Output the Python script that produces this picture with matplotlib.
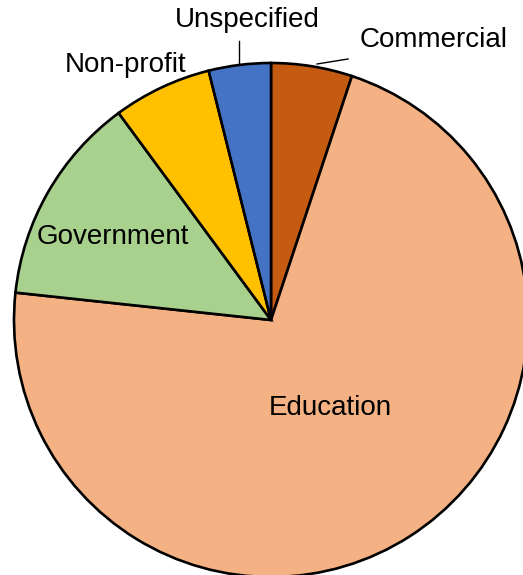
import matplotlib
matplotlib.use("Agg")
import matplotlib.pyplot as plt

categories = ["Commercial", "Education", "Government", "Non-profit", "Unspecified"]
values = [5.1, 71.6, 13.2, 6.2, 3.9]
colors = ["#C55A11", "#F4B183", "#A9D18E", "#FFC000", "#4472C4"]

plt.rcParams['font.family'] = ['Liberation Sans', 'DejaVu Sans']

W, H = 523, 575
cx, cy, R = 271, 320, 257
fig = plt.figure(figsize=(W/100, H/100), dpi=100)
ax = fig.add_axes([0, 0, 1, 1])
ax.pie(values, colors=colors, startangle=90, counterclock=False, radius=R,
       center=(0, 0), wedgeprops=dict(edgecolor="black", linewidth=1.9))
ax.set_xlim(-cx, W - cx)
ax.set_ylim(-(H - cy), cy)
ax.set_aspect('auto')
ax.axis('off')

def P(px, py):
    return px - cx, cy - py

fs = 20
labels_pos = {
    "Commercial": (434, 40),
    "Education": (330, 408),
    "Government": (113, 237),
    "Non-profit": (126, 65),
    "Unspecified": (247, 20),
}
for name, (px, py) in labels_pos.items():
    x, y = P(px, py)
    ax.text(x, y, name, ha='center', va='center', fontsize=fs, color='black')

# leader lines
x0, y0 = P(239, 41); x1, y1 = P(239, 63)
ax.plot([x0, x1], [y0, y1], color='black', lw=1.0)
x0, y0 = P(317, 64); x1, y1 = P(348, 59)
ax.plot([x0, x1], [y0, y1], color='black', lw=1.0)

fig.savefig("out.png", dpi=100)
